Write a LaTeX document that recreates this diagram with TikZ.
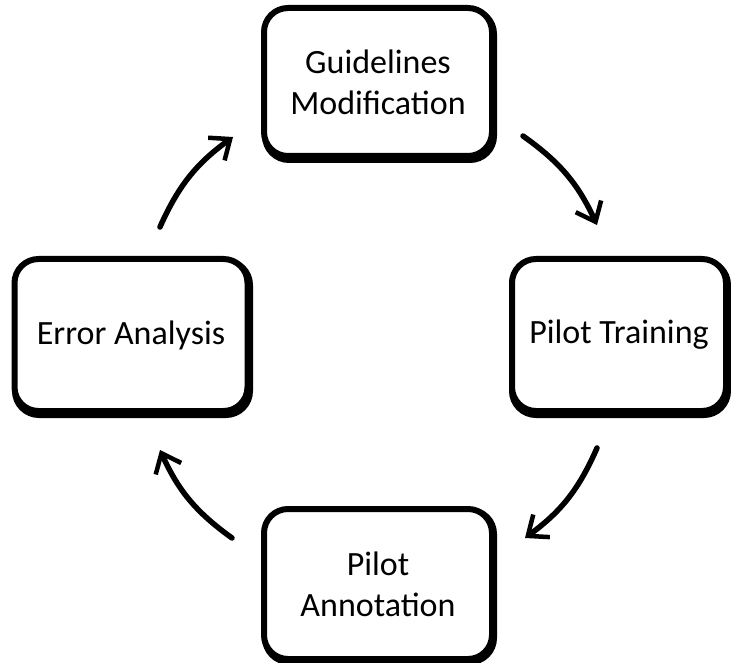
\documentclass[tikz,border=0pt]{standalone}
\usepackage{fontspec}
\setmainfont{Carlito}
\usetikzlibrary{arrows.meta}
\begin{document}
\begin{tikzpicture}[x=1pt,y=-1pt,
  stepbox/.style={draw=black,line width=6pt,rounded corners=24pt,fill=white,
    align=center,font=\fontsize{34}{41}\selectfont,inner sep=0pt},
  cyc/.style={line width=5.5pt,line cap=round,-{Straight Barb[length=17pt,width=28pt,line width=4.5pt]}}]
\useasboundingbox (0,0) rectangle (731,663);
\fill[white] (0,0) rectangle (731,663);
% shadows
\draw[line width=6pt,rounded corners=24pt] (265,10) rectangle (494,160);
\draw[line width=6pt,rounded corners=24pt] (15,261) rectangle (250,415);
\draw[line width=6pt,rounded corners=24pt] (512,261) rectangle (728,415);
\draw[line width=6pt,rounded corners=24pt] (265,510) rectangle (494,662);
\node[stepbox,minimum width=228pt,minimum height=148pt] (gm) at (378,82) {Guidelines\\Modification};
\node[stepbox,minimum width=233pt,minimum height=152pt] (ea) at (131,335) {Error Analysis};
\node[stepbox,minimum width=214pt,minimum height=152pt] (pt) at (619,335) {Pilot Training};
\node[stepbox,minimum width=228pt,minimum height=150pt] (pa) at (378,584) {Pilot\\Annotation};
\coordinate (a1) at (523,136);
\coordinate (b1) at (597,225);
\coordinate (a2) at (597,448);
\coordinate (b2) at (525,538);
\coordinate (a3) at (232,538);
\coordinate (b3) at (160,450);
\coordinate (a4) at (160,227);
\coordinate (b4) at (233,137);
\draw[cyc] (a1) to[bend left=15] (b1);
\draw[cyc] (a2) to[bend left=15] (b2);
\draw[cyc] (a3) to[bend left=15] (b3);
\draw[cyc] (a4) to[bend left=15] (b4);
\end{tikzpicture}
\end{document}
